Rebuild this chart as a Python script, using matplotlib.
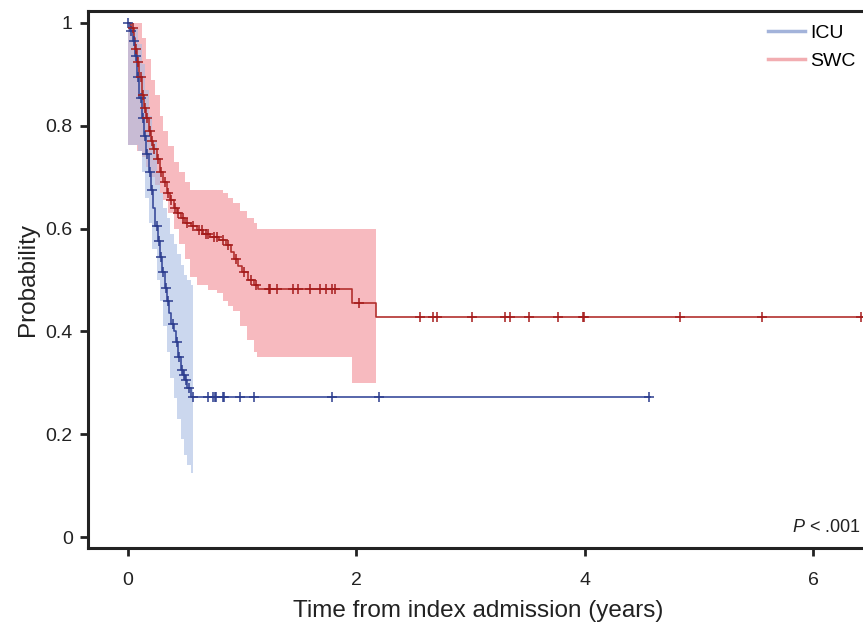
import numpy as np
import matplotlib
matplotlib.use("Agg")
from matplotlib import pyplot as plt
from matplotlib.lines import Line2D

plt.rcParams['font.family'] = ['Liberation Sans', 'DejaVu Sans']
plt.rcParams['mathtext.fontset'] = 'custom'
plt.rcParams['mathtext.it'] = 'Liberation Sans:italic'
plt.rcParams['mathtext.rm'] = 'Liberation Sans'

# ICU group: Kaplan-Meier steps (time in years, survival)
icu_t = [0.00, 0.02, 0.04, 0.06, 0.08, 0.10, 0.12, 0.14, 0.16, 0.18, 0.20,
         0.22, 0.24, 0.26, 0.28, 0.30, 0.32, 0.34, 0.36, 0.38, 0.40, 0.42,
         0.44, 0.46, 0.48, 0.50, 0.52, 0.55, 4.57]
icu_s = [1.00, 0.985, 0.965, 0.935, 0.895, 0.855, 0.815, 0.78, 0.745, 0.71, 0.675,
         0.64, 0.605, 0.575, 0.545, 0.515, 0.485, 0.46, 0.435, 0.415, 0.40, 0.38,
         0.35, 0.325, 0.315, 0.305, 0.29, 0.272, 0.272]
icu_cens = [0.00, 0.03, 0.05, 0.07, 0.09, 0.11, 0.13, 0.15, 0.17, 0.19, 0.21,
            0.25, 0.27, 0.29, 0.31, 0.33, 0.35, 0.39, 0.43, 0.45, 0.47, 0.49,
            0.51, 0.53, 0.566, 0.70, 0.745, 0.76, 0.77, 0.835, 0.84, 0.98,
            1.10, 1.79, 2.20, 4.56]
icu_ci_t = [0.00, 0.02, 0.05, 0.09, 0.12, 0.15, 0.18, 0.21, 0.25, 0.28, 0.31,
            0.34, 0.37, 0.40, 0.43, 0.46, 0.49, 0.52, 0.55, 0.57]
icu_hi = [1.00, 1.00, 0.99, 0.96, 0.92, 0.87, 0.82, 0.77, 0.71, 0.67, 0.64,
          0.62, 0.59, 0.57, 0.55, 0.53, 0.51, 0.50, 0.49, 0.49]
icu_lo = [0.763, 0.763, 0.763, 0.75, 0.71, 0.66, 0.61, 0.56, 0.50, 0.46, 0.41,
          0.36, 0.31, 0.27, 0.23, 0.19, 0.16, 0.14, 0.125, 0.125]

# SWC group
swc_t = [0.00, 0.03, 0.05, 0.06, 0.08, 0.10, 0.12, 0.14, 0.16, 0.18, 0.20,
         0.22, 0.25, 0.28, 0.31, 0.34, 0.37, 0.40, 0.43, 0.46, 0.50, 0.55,
         0.60, 0.66, 0.72, 0.80, 0.86, 0.90, 0.93, 0.96, 1.00, 1.05, 1.10,
         1.14, 1.96, 2.17, 6.50]
swc_s = [1.00, 0.99, 0.97, 0.95, 0.925, 0.895, 0.86, 0.835, 0.815, 0.79, 0.77,
         0.755, 0.735, 0.71, 0.69, 0.67, 0.655, 0.64, 0.63, 0.62, 0.61, 0.605,
         0.597, 0.59, 0.584, 0.578, 0.568, 0.555, 0.54, 0.527, 0.515, 0.50, 0.49,
         0.482, 0.455, 0.428, 0.428]
swc_cens = [0.04, 0.07, 0.09, 0.11, 0.13, 0.15, 0.17, 0.19, 0.21, 0.23, 0.26,
            0.29, 0.32, 0.35, 0.38, 0.41, 0.44, 0.48, 0.52, 0.57, 0.62, 0.65,
            0.68, 0.70, 0.75, 0.78, 0.83, 0.88, 0.95, 1.02, 1.08, 1.12,
            1.236, 1.248, 1.306, 1.446, 1.49, 1.592, 1.68, 1.738, 1.788, 1.817,
            2.02, 2.555, 2.67, 2.706, 3.016, 3.298, 3.348, 3.508, 3.765, 3.983,
            3.99, 4.838, 5.553, 6.42]
swc_ci_t = [0.00, 0.08, 0.12, 0.16, 0.20, 0.24, 0.28, 0.31, 0.35, 0.40, 0.45,
            0.50, 0.54, 0.60, 0.70, 0.78, 0.83, 0.88, 0.92, 0.98, 1.04, 1.10,
            1.13, 1.96, 2.17]
swc_hi = [1.00, 1.00, 0.97, 0.93, 0.89, 0.86, 0.82, 0.79, 0.76, 0.73, 0.71,
          0.69, 0.675, 0.675, 0.675, 0.675, 0.67, 0.66, 0.65, 0.635, 0.62, 0.61,
          0.60, 0.60, 0.60]
swc_lo = [0.763, 0.75, 0.74, 0.72, 0.70, 0.685, 0.67, 0.656, 0.63, 0.60, 0.57,
          0.54, 0.506, 0.49, 0.48, 0.475, 0.46, 0.45, 0.44, 0.41, 0.383, 0.36,
          0.35, 0.30, 0.30]


def surv_at(times, surv, when):
    # look up step value (post) at the censoring times
    idx = np.searchsorted(times, when, side='right') - 1
    return np.asarray(surv)[np.clip(idx, 0, len(surv) - 1)]


fig = plt.figure(figsize=(8.63, 6.26), dpi=100)
ax = fig.add_axes([0.102, 0.1246, 0.905, 0.8578])

# confidence bands
ax.fill_between(swc_ci_t, swc_lo, swc_hi, step='post', color='#f5a9af',
                alpha=0.8, lw=0)
ax.fill_between(icu_ci_t, icu_lo, icu_hi, step='post', color='#a9bde3',
                alpha=0.6, lw=0)

# survival curves
ax.step(icu_t, icu_s, where='post', color='#3a4c9c', lw=1.2)
ax.step(swc_t, swc_s, where='post', color='#b3302e', lw=1.2)

# censor marks
ax.plot(icu_cens, surv_at(icu_t, icu_s, icu_cens), ls='none', marker='+',
        ms=7, mew=1.1, color='#2c3d8e')
ax.plot(swc_cens, surv_at(swc_t, swc_s, swc_cens), ls='none', marker='+',
        ms=7, mew=1.1, color='#a51c1c')

ax.set_xlim(-0.35, 6.49)
ax.set_ylim(-0.0214, 1.0233)
ax.set_xticks([0, 2, 4, 6])
ax.set_xticklabels(['0', '2', '4', '6'])
ax.set_yticks([0, 0.2, 0.4, 0.6, 0.8, 1.0])
ax.set_yticklabels(['0', '0.2', '0.4', '0.6', '0.8', '1'])

for side in ['left', 'bottom', 'top']:
    ax.spines[side].set_linewidth(2.2)
    ax.spines[side].set_color('#222222')
ax.spines['right'].set_visible(False)
ax.tick_params(axis='both', direction='out', length=6, width=2, color='#222222',
               labelsize=14, labelcolor='#222222')
ax.tick_params(axis='x', pad=11)
ax.tick_params(axis='y', pad=5)

ax.set_xlabel('Time from index admission (years)', fontsize=17.5,
              color='#222222', labelpad=8)
ax.set_ylabel('Probability', fontsize=17.5, color='#222222', labelpad=5)

fig.text(0.997, 0.158, '$P$ < .001', ha='right', va='center', fontsize=13,
         color='#222222')

handles = [Line2D([], [], color='#a3b3da', lw=2.5),
           Line2D([], [], color='#f2adb1', lw=2.5)]
fig.legend(handles, ['ICU', 'SWC'], loc='upper right',
           bbox_to_anchor=(1.012, 0.989), frameon=False, fontsize=14,
           handlelength=1.9, handletextpad=0.3, labelspacing=0.55)

fig.savefig('out.png', dpi=100)
